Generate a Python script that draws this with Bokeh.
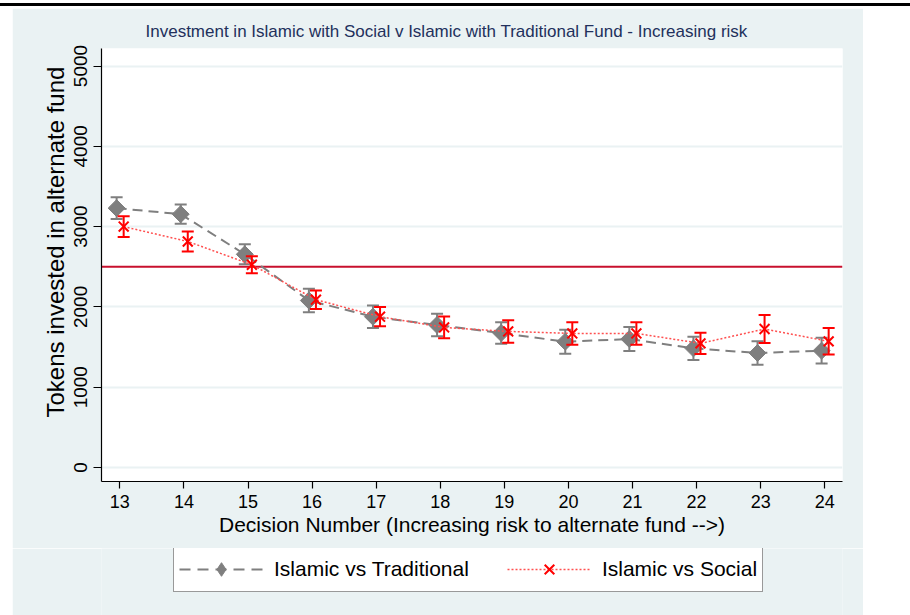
import numpy as np
from bokeh.plotting import figure
from bokeh.models import (ColumnDataSource, Span, Legend, LegendItem, FixedTicker,
                          Range1d, Div, Spacer, Title)
from bokeh.layouts import column, row
from bokeh.embed import file_html
from bokeh.resources import INLINE

# ---- data ----
decisions = [13, 14, 15, 16, 17, 18, 19, 20, 21, 22, 23, 24]
trad_mean = [3230, 3155, 2655, 2080, 1878, 1775, 1675, 1567, 1600, 1484, 1426, 1455]
trad_err = [135, 120, 125, 145, 140, 140, 135, 150, 150, 145, 145, 160]
soc_mean = [3000, 2815, 2525, 2090, 1878, 1745, 1695, 1670, 1670, 1546, 1725, 1571]
soc_err = [130, 125, 105, 115, 120, 135, 140, 140, 140, 133, 175, 165]
benchmark = 2500
y_ticks = [0, 1000, 2000, 3000, 4000, 5000]
series_labels = ["Islamic vs Traditional", "Islamic vs Social"]

trad_shift = -0.05
soc_shift = 0.06

FONT = "Liberation Sans"
BG = "#EAF2F3"
GRAY = "#7F7F7F"
RED = "#FF0000"
SOC_LINE = "#FF5050"


def make_src(means, errs, shift):
    x = np.array(decisions, dtype=float) + shift
    m = np.array(means, dtype=float)
    e = np.array(errs, dtype=float)
    return ColumnDataSource(dict(x=x, y=m, lo=m - e, hi=m + e))


trad_src = make_src(trad_mean, trad_err, trad_shift)
soc_src = make_src(soc_mean, soc_err, soc_shift)

# ---------------- main chart ----------------
p = figure(width=851, height=540, output_backend="svg", toolbar_location=None,
           x_range=Range1d(12.714, 24.276), y_range=Range1d(-174, 5218),
           min_border_left=89, min_border_right=21, min_border_top=40,
           min_border_bottom=67)
p.border_fill_color = BG
p.background_fill_color = "white"
p.outline_line_color = None

p.title = Title(text="Investment in Islamic with Social v Islamic with Traditional Fund - Increasing risk",
                align="left", offset=44)
p.title.text_font = FONT
p.title.text_font_size = "17px"
p.title.text_font_style = "normal"
p.title.text_color = "#22305C"
p.title.standoff = 16

# grids
p.xgrid.visible = False
p.ygrid.ticker = FixedTicker(ticks=y_ticks)
p.ygrid.grid_line_color = BG
p.ygrid.grid_line_width = 2

# axes
for ax in (p.xaxis[0], p.yaxis[0]):
    ax.axis_line_color = "black"
    ax.axis_line_width = 1.2
    ax.major_tick_line_color = "black"
    ax.major_tick_line_width = 1.2
    ax.major_tick_in = 0
    ax.minor_tick_line_color = None
    ax.major_label_text_font = FONT
    ax.major_label_text_color = "black"
    ax.axis_label_text_font = FONT
    ax.axis_label_text_font_style = "normal"
    ax.axis_label_text_color = "black"

p.xaxis.ticker = FixedTicker(ticks=decisions)
p.xaxis.major_tick_out = 7
p.xaxis.major_label_standoff = 6
p.xaxis.major_label_text_font_size = "18px"
p.xaxis.axis_label = "Decision Number (Increasing risk to alternate fund -->)"
p.xaxis.axis_label_text_font_size = "21px"
p.xaxis.axis_label_standoff = 2

p.yaxis.ticker = FixedTicker(ticks=y_ticks)
p.yaxis.major_tick_out = 8
p.yaxis.major_label_standoff = 6
p.yaxis.major_label_text_font_size = "19px"
p.yaxis.major_label_orientation = "vertical"

# y-axis title as a side title so it can sit where the reference has it
ytitle = Title(text="Tokens invested in alternate fund", align="left", offset=64,
               standoff=6, text_font=FONT, text_font_size="24px",
               text_font_style="normal", text_color="black")
p.add_layout(ytitle, "left")

# reference line
p.add_layout(Span(location=benchmark, dimension="width", line_color="#C8102E",
                  line_width=2, level="underlay"))

# Traditional series
p.segment(x0="x", y0="lo", x1="x", y1="hi", source=trad_src, line_color=GRAY, line_width=2)
p.scatter(x="x", y="lo", source=trad_src, marker="dash", size=12, line_color=GRAY, line_width=2)
p.scatter(x="x", y="hi", source=trad_src, marker="dash", size=12, line_color=GRAY, line_width=2)
p.line(x="x", y="y", source=trad_src, line_color=GRAY, line_width=2, line_dash="10 6")
p.scatter(x="x", y="y", source=trad_src, marker="square", angle=np.pi / 4, size=12,
          fill_color=GRAY, line_color=GRAY)

# Social series
p.segment(x0="x", y0="lo", x1="x", y1="hi", source=soc_src, line_color=RED, line_width=2)
p.scatter(x="x", y="lo", source=soc_src, marker="dash", size=12, line_color=RED, line_width=2)
p.scatter(x="x", y="hi", source=soc_src, marker="dash", size=12, line_color=RED, line_width=2)
p.line(x="x", y="y", source=soc_src, line_color=SOC_LINE, line_width=1.5, line_dash="2 2")
p.scatter(x="x", y="y", source=soc_src, marker="x", size=14, line_color=RED, line_width=2)

# ---------------- legend strip ----------------
# (the series are re-drawn here outside the visible range, only to feed the legend)
q = figure(width=851, height=67, output_backend="svg", toolbar_location=None,
           x_range=Range1d(0, 1), y_range=Range1d(0, 1),
           x_axis_location=None, y_axis_location=None, min_border=0)
q.border_fill_color = BG
q.background_fill_color = BG
q.outline_line_color = None
q.grid.visible = False

ltl = q.line(x="x", y="y", source=trad_src, line_color=GRAY, line_width=2, line_dash="11 7")
lts = q.scatter(x="x", y="y", source=trad_src, marker="diamond", size=12,
                fill_color=GRAY, line_color=GRAY)
lsl = q.line(x="x", y="y", source=soc_src, line_color=SOC_LINE, line_width=1.5, line_dash="2 2")
lss = q.scatter(x="x", y="y", source=soc_src, marker="x", size=14, line_color=RED, line_width=2)

legend = Legend(items=[LegendItem(label=series_labels[0], renderers=[ltl, lts]),
                       LegendItem(label=series_labels[1], renderers=[lsl, lss])],
                orientation="horizontal", location=(72, 23))
legend.label_text_font = FONT
legend.label_text_font_size = "21px"
legend.label_text_color = "black"
legend.glyph_width = 84
legend.glyph_height = 34
legend.label_standoff = 11
legend.spacing = 38
legend.padding = 5
legend.margin = 0
legend.border_line_color = "#333333"
legend.border_line_width = 1.5
legend.background_fill_color = "white"
legend.background_fill_alpha = 1
q.add_layout(legend, "center")

top_line = Div(width=910, height=3, margin=(3, 0, 0, 0),
               styles={"background-color": "black"})
layout = column(top_line, Spacer(height=2, width=910),
                row(Spacer(width=12, height=607), column(p, q)))

html = file_html(layout, INLINE)
with open("out.html", "w") as f:
    f.write(html)
